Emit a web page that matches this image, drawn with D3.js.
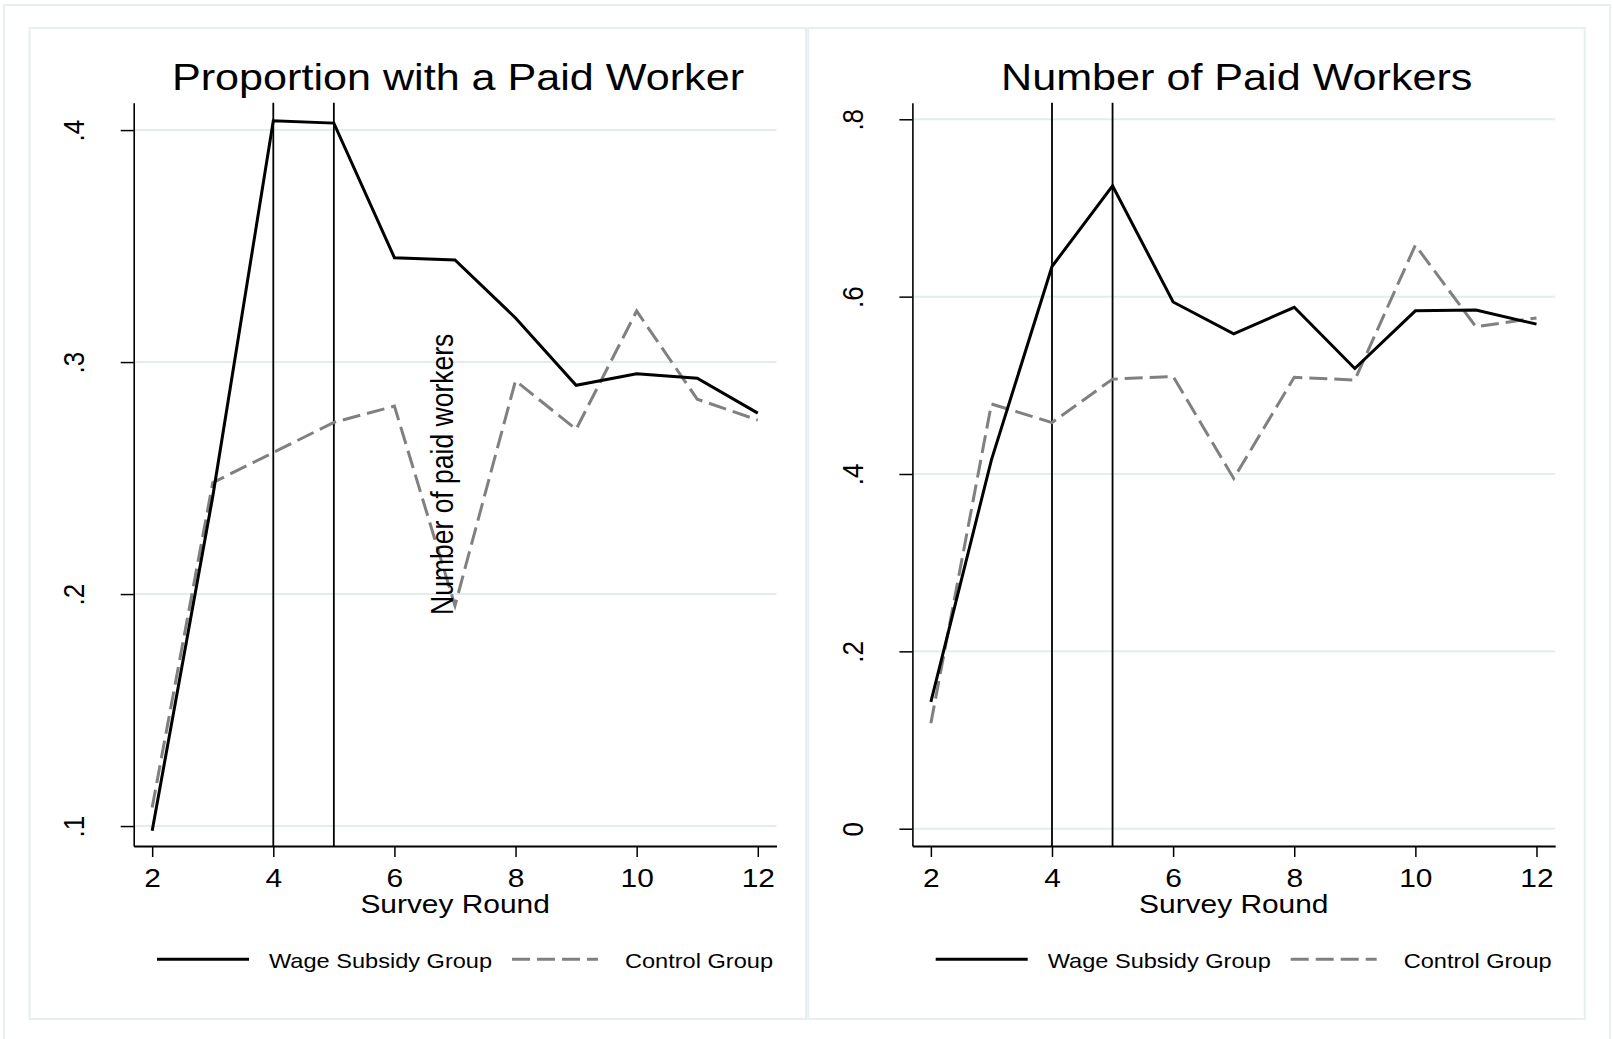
<!DOCTYPE html>
<html><head><meta charset="utf-8">
<script src="https://cdn.jsdelivr.net/npm/d3@7"></script>
<style>
body{margin:0;background:#fff;}
svg{display:block;}
text{font-family:"Liberation Sans", Arial, Helvetica, sans-serif; fill:#000;}
</style>
</head><body>
<svg id="chart" width="1613" height="1039"></svg>
<script>
// ---- data ----
const rounds = [2, 3, 4, 5, 6, 7, 8, 9, 10, 11, 12];
const propWage    = [0.098, 0.242, 0.404, 0.403, 0.345, 0.344, 0.319, 0.290, 0.295, 0.293, 0.278];
const propControl = [0.108, 0.248, 0.261, 0.274, 0.281, 0.195, 0.292, 0.271, 0.322, 0.284, 0.275];
const numWage     = [0.143, 0.416, 0.634, 0.725, 0.594, 0.558, 0.588, 0.519, 0.584, 0.585, 0.569];
const numControl  = [0.119, 0.479, 0.458, 0.507, 0.510, 0.395, 0.509, 0.506, 0.658, 0.566, 0.576];
const xTicks = [2, 4, 6, 8, 10, 12];
const propTicks = [0.1, 0.2, 0.3, 0.4];
const numTicks = [0, 0.2, 0.4, 0.6, 0.8];
const treatmentRounds = [4, 5];
const panelTitles = ["Proportion with a Paid Worker", "Number of Paid Workers"];
const xTitle = "Survey Round";
const legendLabels = ["Wage Subsidy Group", "Control Group"];
const annotationText = "Number of paid workers";
const annotationPos = [6.97, 0.191];

// ---- layout ----
const SX = 1.15; // horizontal glyph stretch of the original
const svg = d3.select("#chart");
svg.append("rect").attr("x", 4).attr("y", 5).attr("width", 1606).attr("height", 1050)
  .attr("fill", "none").attr("stroke", "#e8eff0").attr("stroke-width", 2);

const panels = [
  {dx: 0, title: panelTitles[0], wage: propWage, control: propControl, ticks: propTicks, yDomain: [0.0914, 0.4118], annot: true},
  {dx: 778.7, title: panelTitles[1], wage: numWage, control: numControl, ticks: numTicks, yDomain: [-0.0195, 0.8187], annot: false}
];
const fmt = d => d === 0 ? "0" : d3.format(".1f")(d).replace(/^0/, "");

panels.forEach(p => {
  const g = svg.append("g").attr("transform", `translate(${p.dx},0)`);
  g.append("rect").attr("x", 29.5).attr("y", 28).attr("width", 776.5).attr("height", 991)
    .attr("fill", "none").attr("stroke", "#e8eff0").attr("stroke-width", 2);

  const x = d3.scaleLinear().domain([1.695, 12.309]).range([133.7, 776.5]);
  const y = d3.scaleLinear().domain(p.yDomain).range([846, 102.7]);

  // gridlines
  g.selectAll("line.grid").data(p.ticks).join("line").attr("class", "grid")
    .attr("x1", x.range()[0]).attr("x2", x.range()[1])
    .attr("y1", d => y(d)).attr("y2", d => y(d))
    .attr("stroke", "#e4eded").attr("stroke-width", 2);

  // treatment vertical lines
  g.selectAll("line.vline").data(treatmentRounds).join("line").attr("class", "vline")
    .attr("x1", d => x(d)).attr("x2", d => x(d))
    .attr("y1", y.range()[0]).attr("y2", y.range()[1])
    .attr("stroke", "#000").attr("stroke-width", 1.8);

  const line = d3.line().x((d, i) => x(rounds[i])).y(d => y(d));
  g.append("path").datum(p.control).attr("d", line).attr("fill", "none")
    .attr("stroke", "#808080").attr("stroke-width", 3).attr("stroke-dasharray", "18,7");
  g.append("path").datum(p.wage).attr("d", line).attr("fill", "none")
    .attr("stroke", "#000").attr("stroke-width", 3);

  // axes
  const xa = g.append("g").attr("transform", `translate(0,${y.range()[0]})`)
    .call(d3.axisBottom(x).tickValues(xTicks).tickSize(11).tickSizeOuter(0).tickFormat(d3.format("d")));
  xa.select(".domain").attr("stroke", "#000").attr("stroke-width", 2);
  xa.selectAll(".tick line").attr("stroke", "#000").attr("stroke-width", 1.5);
  xa.selectAll(".tick text").attr("y", null).attr("dy", null)
    .attr("transform", `translate(0,41) scale(${SX},1)`)
    .attr("font-size", 26).attr("font-family", null).attr("fill", "#000");

  const ya = g.append("g").attr("transform", `translate(${x.range()[0]},0)`)
    .call(d3.axisLeft(y).tickValues(p.ticks).tickSize(13).tickSizeOuter(0).tickFormat(fmt));
  ya.select(".domain").attr("stroke", "#000").attr("stroke-width", 1.6);
  ya.selectAll(".tick line").attr("stroke", "#000").attr("stroke-width", 1.5);
  ya.selectAll(".tick text").attr("x", null).attr("dy", null)
    .attr("text-anchor", "middle")
    .attr("transform", `translate(-49.7,0) scale(${SX},1) rotate(-90)`)
    .attr("font-size", 26).attr("font-family", null).attr("fill", "#000");
  xa.attr("font-family", null); ya.attr("font-family", null);

  // title
  g.append("text").text(p.title).attr("text-anchor", "middle").attr("font-size", 37.5)
    .attr("transform", `translate(458,90) scale(${SX},1)`);

  // x title
  g.append("text").text(xTitle).attr("text-anchor", "middle").attr("font-size", 26)
    .attr("transform", `translate(455.1,913) scale(${SX},1)`);

  // annotation
  if (p.annot) {
    g.append("text").text(annotationText).attr("font-size", 26.5)
      .attr("transform", `translate(${x(annotationPos[0])},${y(annotationPos[1])}) scale(${SX},1) rotate(-90)`);
  }

  // legend
  const ly = 959.3;
  g.append("line").attr("x1", 157).attr("x2", 249).attr("y1", ly).attr("y2", ly)
    .attr("stroke", "#000").attr("stroke-width", 3);
  g.append("text").text(legendLabels[0]).attr("font-size", 20.5)
    .attr("transform", `translate(269,967.7) scale(${SX},1)`);
  g.append("line").attr("x1", 512).attr("x2", 598).attr("y1", ly).attr("y2", ly)
    .attr("stroke", "#808080").attr("stroke-width", 3).attr("stroke-dasharray", "18,7");
  g.append("text").text(legendLabels[1]).attr("font-size", 20.5)
    .attr("transform", `translate(625,967.7) scale(${SX},1)`);
});
</script>
</body></html>
